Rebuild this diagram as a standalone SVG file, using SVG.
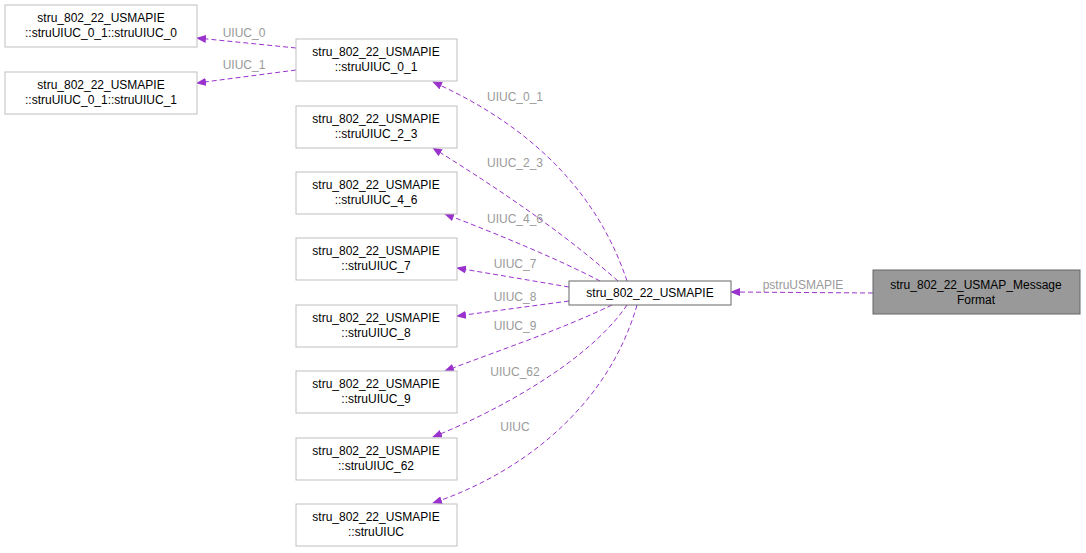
<svg xmlns="http://www.w3.org/2000/svg" width="1086" height="553" viewBox="0 0 1086 553">
<style>
.n rect{fill:#fff;stroke:#bfbfbf;stroke-width:1}
text{font-family:"Liberation Sans",Arial,sans-serif;font-size:12px;fill:#000;text-anchor:middle}
.e path{fill:none;stroke:#9a32cd;stroke-dasharray:5,3;stroke-width:1}
.e text{fill:#9a9a9a}
</style>
<defs><marker id="a" markerWidth="10" markerHeight="8" refX="9" refY="4" orient="auto" markerUnits="userSpaceOnUse"><path d="M0,0L10,4L0,8z" fill="#9a32cd"/></marker></defs>
<rect width="1086" height="553" fill="#fff"/>
<g class="e">
<path d="M296,48L197,38" marker-end="url(#a)"/><text x="244" y="37">UIUC_0</text>
<path d="M296,70L197,83" marker-end="url(#a)"/><text x="244" y="69">UIUC_1</text>
<path d="M627,281C600,200 540,130 433,82" marker-end="url(#a)"/><text x="515" y="101">UIUC_0_1</text>
<path d="M618,281C560,230 500,190 433,148" marker-end="url(#a)"/><text x="515" y="167">UIUC_2_3</text>
<path d="M600,281C560,260 500,235 445,214" marker-end="url(#a)"/><text x="515" y="223">UIUC_4_6</text>
<path d="M569,287L457,268" marker-end="url(#a)"/><text x="515" y="268">UIUC_7</text>
<path d="M569,301L457,316" marker-end="url(#a)"/><text x="515" y="301">UIUC_8</text>
<path d="M612,305C560,330 500,350 445,371" marker-end="url(#a)"/><text x="515" y="330">UIUC_9</text>
<path d="M627,305C590,360 500,410 433,437" marker-end="url(#a)"/><text x="515" y="376">UIUC_62</text>
<path d="M637,305C610,400 530,470 433,503" marker-end="url(#a)"/><text x="515" y="431">UIUC</text>
<path d="M873,293L731,292" marker-end="url(#a)"/><text x="803" y="289">pstruUSMAPIE</text>
</g>
<g id="n0" class="n"><rect x="5" y="5" width="192" height="42"/><text x="101" y="22">stru_802_22_USMAPIE</text><text x="101" y="37">::struUIUC_0_1::struUIUC_0</text></g>
<g id="n1" class="n"><rect x="5" y="72" width="192" height="42"/><text x="101" y="89">stru_802_22_USMAPIE</text><text x="101" y="104">::struUIUC_0_1::struUIUC_1</text></g>
<g id="n2" class="n"><rect x="296" y="39" width="161" height="42"/><text x="376" y="56">stru_802_22_USMAPIE</text><text x="376" y="71">::struUIUC_0_1</text></g>
<g id="n3" class="n"><rect x="296" y="106" width="161" height="42"/><text x="376" y="123">stru_802_22_USMAPIE</text><text x="376" y="138">::struUIUC_2_3</text></g>
<g id="n4" class="n"><rect x="296" y="172" width="161" height="42"/><text x="376" y="189">stru_802_22_USMAPIE</text><text x="376" y="204">::struUIUC_4_6</text></g>
<g id="n5" class="n"><rect x="296" y="238" width="161" height="42"/><text x="376" y="255">stru_802_22_USMAPIE</text><text x="376" y="270">::struUIUC_7</text></g>
<g id="n6" class="n"><rect x="296" y="305" width="161" height="42"/><text x="376" y="322">stru_802_22_USMAPIE</text><text x="376" y="337">::struUIUC_8</text></g>
<g id="n7" class="n"><rect x="296" y="371" width="161" height="42"/><text x="376" y="388">stru_802_22_USMAPIE</text><text x="376" y="403">::struUIUC_9</text></g>
<g id="n8" class="n"><rect x="296" y="438" width="161" height="42"/><text x="376" y="455">stru_802_22_USMAPIE</text><text x="376" y="470">::struUIUC_62</text></g>
<g id="n9" class="n"><rect x="296" y="504" width="161" height="42"/><text x="376" y="521">stru_802_22_USMAPIE</text><text x="376" y="536">::struUIUC</text></g>
<g id="n10" class="n"><rect x="569" y="281" width="162" height="24" style="stroke:#666"/><text x="650" y="297">stru_802_22_USMAPIE</text></g>
<g id="n11" class="n"><rect x="873" y="270" width="207" height="44" style="fill:#999;stroke:#666"/><text x="976" y="289">stru_802_22_USMAP_Message</text><text x="976" y="304">Format</text></g>
</svg>
